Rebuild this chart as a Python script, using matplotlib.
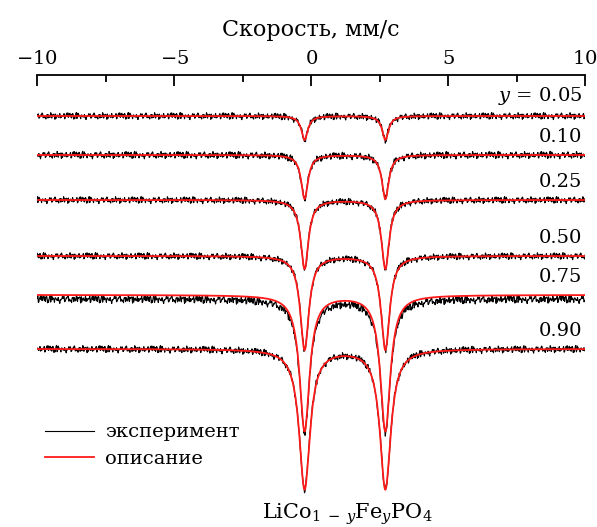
import numpy as np
import matplotlib
matplotlib.use('Agg')
import matplotlib.pyplot as plt

plt.rcParams['font.family'] = 'DejaVu Serif'
plt.rcParams['mathtext.fontset'] = 'dejavuserif'

# Spectra (offsets/depths in plot units, positions in mm/s)
y_labels = ['$y$ = 0.05', '0.10', '0.25', '0.50', '0.75', '0.90']
fit_base = [-41, -80, -125, -181, -220, -274]
fit_depth = [24, 44, 69, 94, 136, 140]
fit_hwhm = [0.14, 0.15, 0.17, 0.19, 0.22, 0.24]
exp_base = [-41, -80, -125, -181, -224, -274]
exp_depth = [24, 44, 69, 94, 134, 140]
noise_amp = [1.5, 1.6, 1.5, 1.5, 1.8, 1.6]
line_pos = [-0.24, 2.71]

resid = [0.3, -1.1, 0.8, 1.6, -0.4, -1.8, 0.2, 1.1, -0.7, 0.5,
         -1.3, 2.1, 0.0, -0.6, 1.4, -2.0, 0.9, 0.4, -0.9, 1.7,
         -0.2, -1.5, 0.6, 1.2, -1.0, 0.1, 2.3, -0.8, -1.2, 0.7,
         0.2, -0.3, 1.5, -1.7, 0.9, -0.5, 1.0, -2.2, 0.4, 1.8,
         -0.1, -0.9, 0.6, -1.4, 1.3, 0.0, -0.7, 1.9, -1.1, 0.3,
         0.8, -1.6, 0.5, 1.1, -0.4, -2.4, 1.2, 0.2, -0.6, 1.6,
         -1.3, 0.7, -0.2, 2.0, -1.0, 0.4, -1.9, 0.9, 0.1, -0.5,
         1.4, -0.8, 0.6, -1.5, 1.7, -0.3, 0.0, -1.2, 2.2, -0.7,
         0.5, 1.0, -1.8, 0.3, -0.1, 1.3, -0.9, 0.8, -2.1, 0.6,
         1.5, -0.4, -1.4, 0.2, 1.9, -0.6, 0.7]

v = np.linspace(-10, 10, 1024)
resid = np.array(resid)


def doublet(base, depth, g):
    s = np.zeros_like(v)
    for p in line_pos:
        s += g**2 / ((v - p)**2 + g**2)
    return base - depth * s


fig = plt.figure(figsize=(5.97, 5.27), dpi=100)
ax = fig.add_axes([0.0625, 0.061, 0.9174, 0.7967])

for i in range(len(y_labels)):
    idx = (np.arange(len(v)) * 7 + i * 13) % len(resid)
    exp = doublet(exp_base[i], exp_depth[i], fit_hwhm[i]) + noise_amp[i] * resid[idx]
    fit = doublet(fit_base[i], fit_depth[i], fit_hwhm[i])
    ax.plot(v, exp, color='black', lw=0.8, label='эксперимент' if i == 0 else None)
    ax.plot(v, fit, color='#ff1a1a', lw=1.3, label='описание' if i == 0 else None)
    ax.text(9.9, fit_base[i] + 9, y_labels[i], ha='right', va='bottom', fontsize=14)

ax.set_xlim(-10, 10)
ax.set_ylim(-420, 0)
for s in ['left', 'right', 'bottom']:
    ax.spines[s].set_visible(False)
ax.spines['top'].set_linewidth(1.3)
ax.set_yticks([])
ax.xaxis.tick_top()
ax.xaxis.set_label_position('top')
ax.set_xticks([-10, -5, 0, 5, 10])
ax.set_xticklabels(['$-10$', '$-5$', '$0$', '$5$', '$10$'])
ax.set_xticks([-7.5, -2.5, 2.5, 7.5], minor=True)
ax.tick_params(axis='x', which='major', direction='in', length=8, width=1.3,
               labelsize=14, pad=5)
ax.tick_params(axis='x', which='minor', direction='in', length=5, width=1.3)
ax.set_xlabel('Скорость, мм/с', fontsize=16, labelpad=10)

ax.legend(loc='lower left', bbox_to_anchor=(0.0, 0.045), frameon=False,
          fontsize=14, handlelength=2.5, handletextpad=0.6,
          labelspacing=0.45, borderaxespad=0.0)

fig.text(0.582, 0.016, 'LiCo$_{1\\;-\\;y}$Fe$_y$PO$_4$', ha='center', fontsize=15)

fig.savefig('out.png', dpi=100)
